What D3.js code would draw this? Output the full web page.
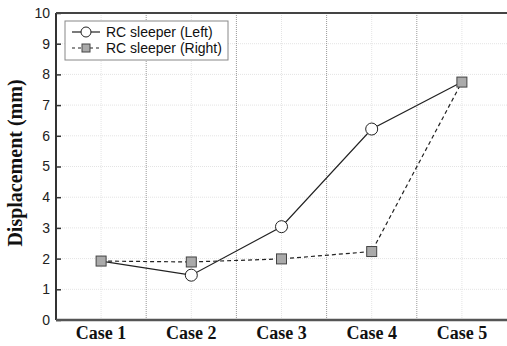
<!DOCTYPE html>
<html>
<head>
<meta charset="utf-8">
<style>
  body { margin: 0; background: #fff; }
</style>
</head>
<body>
<svg width="507" height="346"></svg>
<script src="https://d3js.org/d3.v7.min.js"></script>
<script>
  var cases = ["Case 1", "Case 2", "Case 3", "Case 4", "Case 5"];
  var leftValues = [1.92, 1.46, 3.04, 6.22, 7.75];
  var rightValues = [1.92, 1.89, 1.99, 2.23, 7.75];
  var yTicks = [0, 1, 2, 3, 4, 5, 6, 7, 8, 9, 10];
  var seriesNames = ["RC sleeper (Left)", "RC sleeper (Right)"];

  var svg = d3.select("svg");
  var margin = {top: 13, right: 0, bottom: 26, left: 56};
  var width = +svg.attr("width") - margin.left - margin.right;
  var height = +svg.attr("height") - margin.top - margin.bottom;

  var g = svg.append("g")
      .attr("transform", "translate(" + margin.left + "," + margin.top + ")");

  var x = d3.scaleBand().domain(cases).range([0, width]);
  var y = d3.scaleLinear().domain([0, 10]).range([height, 0]);

  // faint grid
  g.selectAll(".hgrid").data(yTicks.slice(1, -1)).enter().append("line")
      .attr("x1", 0).attr("x2", width)
      .attr("y1", function(d) { return y(d); }).attr("y2", function(d) { return y(d); })
      .attr("stroke", "#e4e4e4").attr("stroke-width", 1).attr("stroke-dasharray", "1,1");
  g.selectAll(".vgrid").data(cases).enter().append("line")
      .attr("x1", function(d) { return x(d) + x.bandwidth() / 2; })
      .attr("x2", function(d) { return x(d) + x.bandwidth() / 2; })
      .attr("y1", 0).attr("y2", height)
      .attr("stroke", "#e4e4e4").attr("stroke-width", 1).attr("stroke-dasharray", "1,1");

  // case separators
  g.selectAll(".sep").data(cases.slice(1)).enter().append("line")
      .attr("x1", function(d) { return x(d); }).attr("x2", function(d) { return x(d); })
      .attr("y1", 0).attr("y2", height)
      .attr("stroke", "#999").attr("stroke-width", 1).attr("stroke-dasharray", "1,1");

  // axes
  var yAxis = d3.axisRight(y).tickValues(yTicks).tickSize(5).tickFormat(d3.format("d"));
  var yg = g.append("g").call(yAxis);
  yg.select(".domain").remove();
  yg.selectAll(".tick line").attr("stroke", "#333").attr("stroke-width", 1.5);
  yg.selectAll(".tick text")
      .attr("x", -6).attr("text-anchor", "end")
      .attr("font-family", "Liberation Sans, Arial, sans-serif")
      .attr("font-size", 14).attr("fill", "#222");

  var xAxis = d3.axisBottom(x).tickSize(0).tickPadding(6);
  var xg = g.append("g").attr("transform", "translate(0," + height + ")").call(xAxis);
  xg.select(".domain").remove();
  xg.selectAll(".tick text")
      .attr("font-family", "Liberation Serif, Times New Roman, serif")
      .attr("font-weight", "bold").attr("font-size", 18).attr("fill", "#111");

  // frame lines
  g.append("line").attr("x1", 0).attr("x2", 0).attr("y1", 0).attr("y2", height)
      .attr("stroke", "#333").attr("stroke-width", 2);
  g.append("line").attr("x1", 0).attr("x2", width).attr("y1", height).attr("y2", height)
      .attr("stroke", "#555").attr("stroke-width", 2.5);
  g.append("line").attr("x1", 0).attr("x2", width).attr("y1", 0).attr("y2", 0)
      .attr("stroke", "#444").attr("stroke-width", 2);

  var line = d3.line()
      .x(function(d, i) { return x(cases[i]) + x.bandwidth() / 2; })
      .y(function(d) { return y(d); });

  g.append("path").datum(rightValues)
      .attr("fill", "none").attr("stroke", "#222").attr("stroke-width", 1.2)
      .attr("stroke-dasharray", "4,3").attr("d", line);
  g.append("path").datum(leftValues)
      .attr("fill", "none").attr("stroke", "#222").attr("stroke-width", 1.2)
      .attr("d", line);

  g.selectAll(".sq").data(rightValues).enter().append("rect")
      .attr("x", function(d, i) { return x(cases[i]) + x.bandwidth() / 2 - 5; })
      .attr("y", function(d) { return y(d) - 5; })
      .attr("width", 10).attr("height", 10)
      .attr("fill", "#aaa").attr("stroke", "#444").attr("stroke-width", 1);
  g.selectAll(".ci").data(leftValues.slice(1, 4)).enter().append("circle")
      .attr("cx", function(d, i) { return x(cases[i + 1]) + x.bandwidth() / 2; })
      .attr("cy", function(d) { return y(d); })
      .attr("r", 6)
      .attr("fill", "#fff").attr("stroke", "#222").attr("stroke-width", 1);

  // y title
  svg.append("text")
      .attr("transform", "translate(22,163) rotate(-90)")
      .attr("text-anchor", "middle")
      .attr("font-family", "Liberation Serif, Times New Roman, serif")
      .attr("font-weight", "bold").attr("font-size", 20).attr("fill", "#111")
      .text("Displacement (mm)");

  // legend
  var lg = svg.append("g").attr("transform", "translate(65,21)");
  lg.append("rect").attr("width", 163).attr("height", 39)
      .attr("fill", "#fff").attr("stroke", "#888").attr("stroke-width", 1);
  lg.append("line").attr("x1", 7).attr("x2", 35).attr("y1", 11).attr("y2", 11)
      .attr("stroke", "#222").attr("stroke-width", 1.2);
  lg.append("circle").attr("cx", 21).attr("cy", 11).attr("r", 5)
      .attr("fill", "#fff").attr("stroke", "#222");
  lg.append("line").attr("x1", 7).attr("x2", 35).attr("y1", 27).attr("y2", 27)
      .attr("stroke", "#222").attr("stroke-width", 1.2).attr("stroke-dasharray", "3,3");
  lg.append("rect").attr("x", 17).attr("y", 23).attr("width", 8).attr("height", 8)
      .attr("fill", "#aaa").attr("stroke", "#444");
  lg.selectAll(".lt").data(seriesNames).enter().append("text")
      .attr("x", 41).attr("y", function(d, i) { return 16 + i * 16; })
      .attr("font-family", "Liberation Sans, Arial, sans-serif")
      .attr("font-size", 14).attr("fill", "#111")
      .text(function(d) { return d; });
</script>
</body>
</html>
